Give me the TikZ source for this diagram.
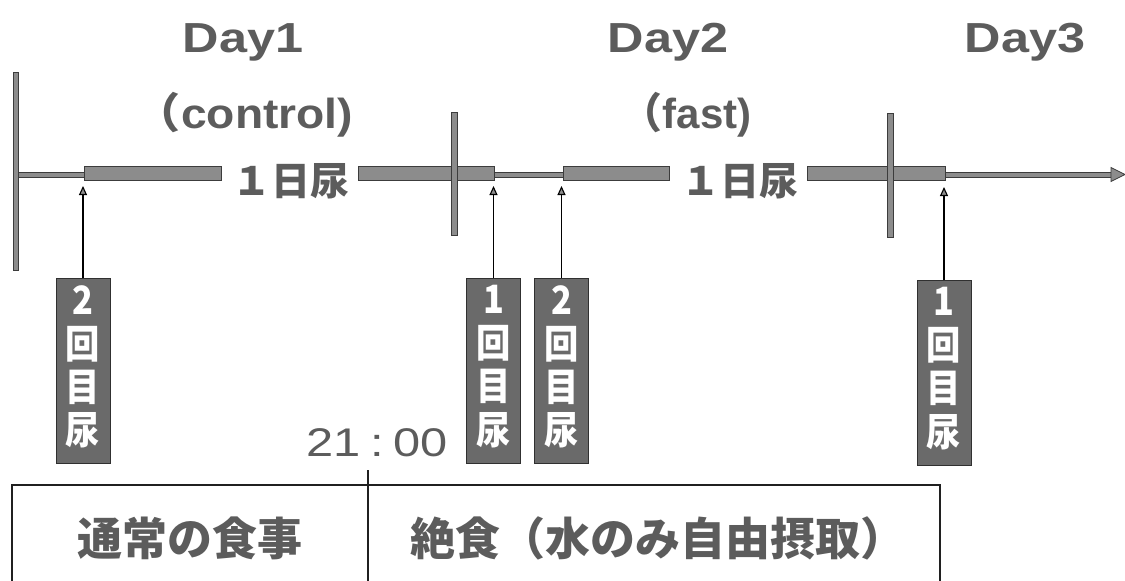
\documentclass[tikz,border=0pt]{standalone}
\usepackage{fontspec}
\setmainfont{Liberation Sans}
\newfontfamily\cjk{Noto Sans CJK JP}
\usetikzlibrary{arrows.meta}
\definecolor{txtgray}{HTML}{5C5C5C}
\definecolor{bargray}{HTML}{8C8C8C}
\definecolor{bardark}{HTML}{3C3C3C}
\definecolor{boxgray}{HTML}{6A6A6A}
\definecolor{boxdark}{HTML}{303030}
\definecolor{framecol}{HTML}{202020}
\newcommand\vstk[4]{\scalebox{0.88}[1]{\begin{tabular}{@{}c@{}}#1\\#2\\#3\\#4\end{tabular}}}
\begin{document}
\begin{tikzpicture}[x=1pt,y=-1pt,
  bar/.style={fill=bargray,draw=bardark,line width=0.8pt},
  ubox/.style={draw=boxdark,fill=boxgray,line width=0.8pt,minimum width=54pt,minimum height=185pt,inner sep=0pt,text=white,
    font=\cjk\bfseries\fontsize{39}{39}\selectfont},
  uparrow/.style={draw=black,line width=1.1pt,-{Triangle[length=9pt,width=8pt,fill=bargray]}},
  title/.style={text=txtgray,font=\bfseries\fontsize{42}{42}\selectfont,inner sep=0pt},
  jtext/.style={text=txtgray,font=\cjk\bfseries\fontsize{45}{45}\selectfont,inner sep=0pt},
  utext/.style={text=txtgray,font=\cjk\bfseries\fontsize{39}{39}\selectfont,inner sep=0pt},
  frame/.style={draw=framecol,line width=1.5pt}]
\useasboundingbox (0,0) rectangle (1125,581);

% titles
\node[title,anchor=base] (d1) at (243,52) {\scalebox{1.2}[1]{Day1}};
\node[title,anchor=base] (d2) at (668,52) {\scalebox{1.2}[1]{Day2}};
\node[title,anchor=base] (d3) at (1025,52) {\scalebox{1.2}[1]{Day3}};
\node[title,anchor=base] (c1) at (244,128) {\scalebox{1.1}[1]{{\cjk （}control)}};
\node[title,anchor=base] (c2) at (686,128) {\scalebox{1.0}[1]{{\cjk （}fast)}};

% thin timeline parts
\draw[bar] (16,172) rectangle (84,177);
\draw[bar] (494,172) rectangle (563,177);
\draw[bar] (945,172) rectangle (1113,177);
\filldraw[bar] (1111,167.5) -- (1125,174.5) -- (1111,181.5) -- cycle;

% thick bars
\draw[bar] (84,166) rectangle (221,180);
\draw[bar] (358,166) rectangle (494,180);
\draw[bar] (563,166) rectangle (669,180);
\draw[bar] (807,166) rectangle (945,180);

% vertical ticks
\draw[bar] (13.5,72) rectangle (18.5,270);
\draw[bar] (451,112) rectangle (457,235);
\draw[bar] (887,113) rectangle (893,237);

% 1-day urine labels
\node[utext] (u1) at (291,181) {１日尿};
\node[utext] (u2) at (740,181) {１日尿};

% sample boxes
\node[ubox] (b1) at (83,371) {\vstk{2}{回}{目}{尿}};
\node[ubox] (b2) at (493.5,371) {\vstk{1}{回}{目}{尿}};
\node[ubox] (b3) at (561.5,371) {\vstk{2}{回}{目}{尿}};
\node[ubox] (b4) at (944,373) {\vstk{1}{回}{目}{尿}};

\coordinate (t1) at (83,186);
\coordinate (t2) at (493.5,186);
\coordinate (t3) at (561.5,186);
\coordinate (t4) at (944,187);
\draw[uparrow] (b1.north) -- (t1);
\draw[uparrow] (b2.north) -- (t2);
\draw[uparrow] (b3.north) -- (t3);
\draw[uparrow] (b4.north) -- (t4);

% time label
\node[text=txtgray,font=\fontsize{40}{40}\selectfont,inner sep=0pt,anchor=base east] (tm) at (448,456)
  {\scalebox{1.22}[1]{21\hspace{8pt}:\hspace{8pt}00}};

% bottom table
\coordinate (tl) at (12,485);
\coordinate (tr) at (940,485);
\coordinate (bl) at (12,581);
\coordinate (br) at (940,581);
\coordinate (dt) at (368,470);
\coordinate (db) at (368,581);
\draw[frame] (bl) -- (tl) -- (tr) -- (br);
\draw[frame,line width=1.2pt] (dt) -- (db);
\node[jtext] (meal) at (190,538) {通常の食事};
\node[jtext] (fast) at (658,538) {絶食（水のみ自由摂取）};
\end{tikzpicture}
\end{document}
